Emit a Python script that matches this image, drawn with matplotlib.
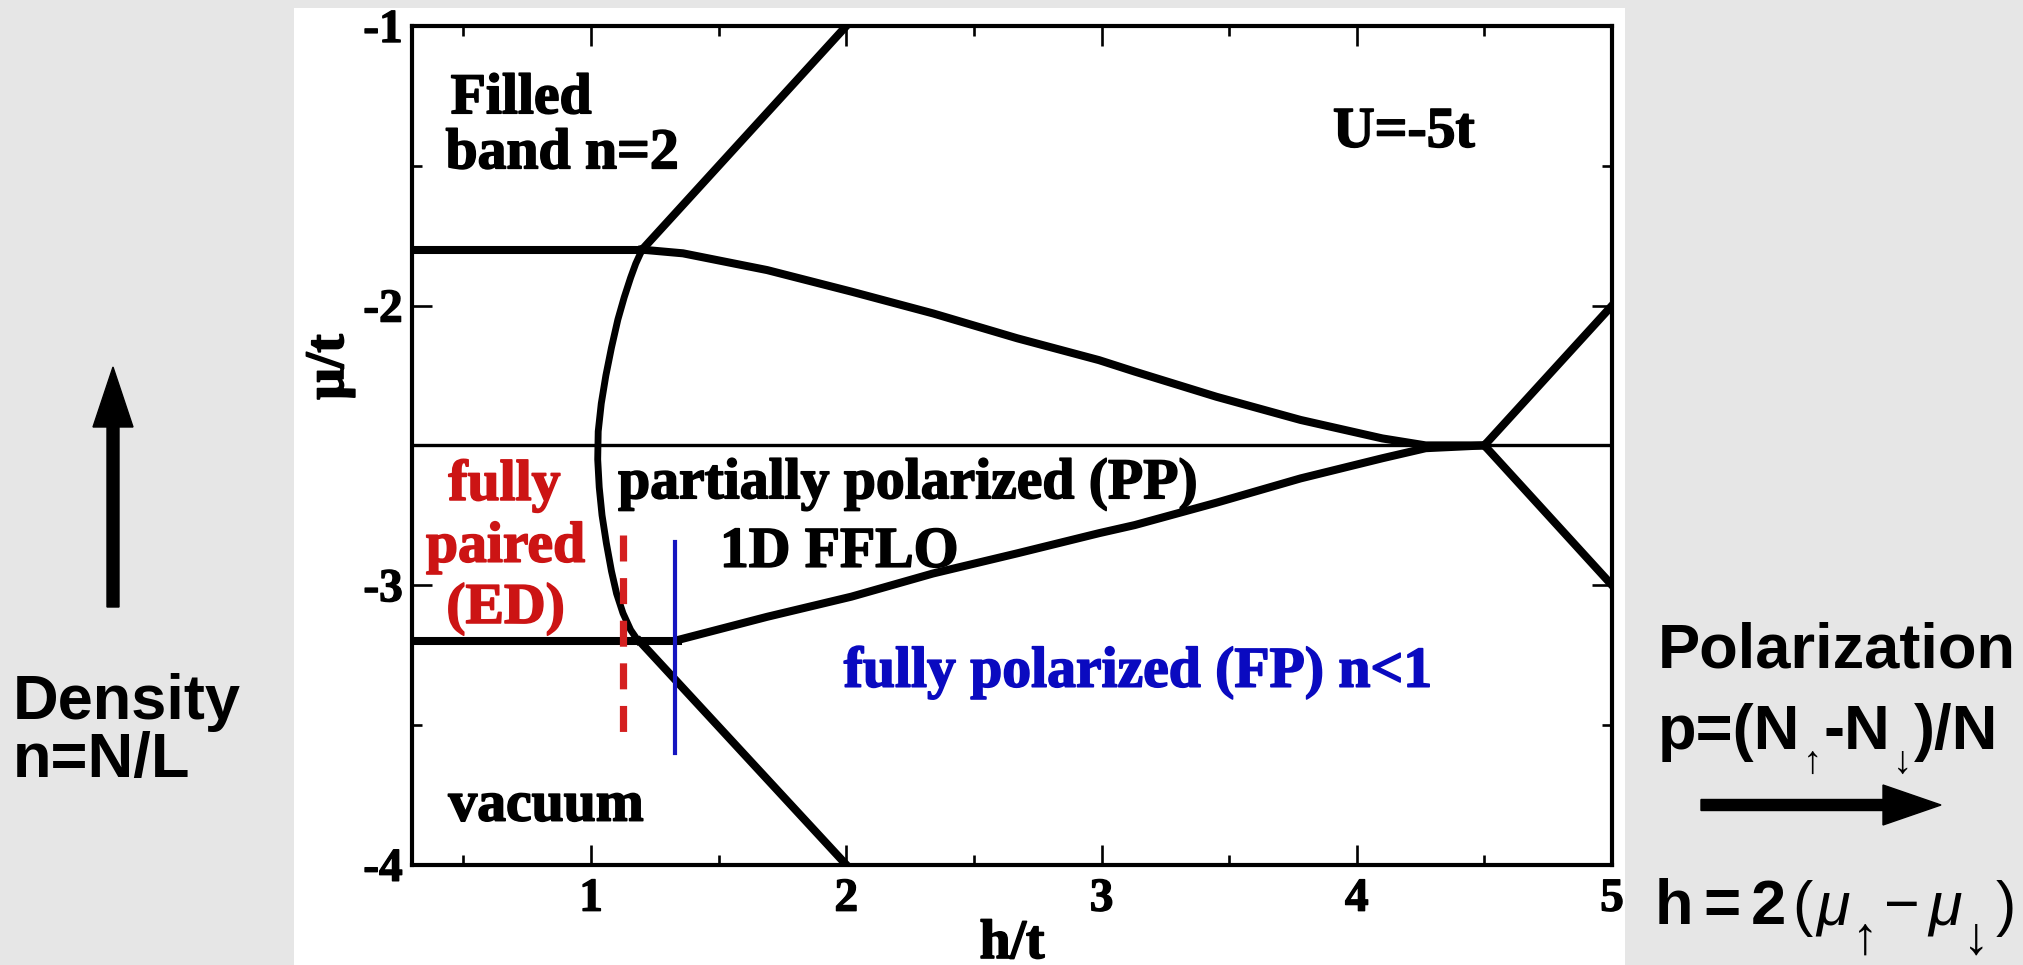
import matplotlib
matplotlib.use('Agg')
import matplotlib.pyplot as plt
import matplotlib.patheffects as pe
from matplotlib.patches import FancyArrow, Rectangle
from matplotlib.ticker import MultipleLocator

plt.rcParams['axes.unicode_minus'] = False

# ---------------- data (h/t, mu/t) ----------------
mid_h = [0.3, 5.0]
mid_mu = [-2.5, -2.5]

upper_flat_h = [0.3, 1.2]
upper_flat_mu = [-1.8, -1.8]
lower_flat_h = [0.3, 1.34]
lower_flat_mu = [-3.2, -3.2]

upper_curve_h = [1.2, 1.36, 1.69, 2.02, 2.34, 2.67, 2.99, 3.13, 3.45, 3.78, 4.10, 4.27, 4.5]
upper_curve_mu = [-1.80, -1.813, -1.873, -1.950, -2.028, -2.117, -2.195, -2.236, -2.326, -2.409, -2.475, -2.50, -2.50]

lower_curve_h = [1.34, 1.69, 2.02, 2.34, 2.67, 2.99, 3.13, 3.45, 3.78, 4.10, 4.27, 4.5]
lower_curve_mu = [-3.196, -3.113, -3.041, -2.958, -2.886, -2.814, -2.785, -2.705, -2.618, -2.546, -2.51, -2.50]

c_curve_mu = [-1.80, -1.85, -1.90, -1.97, -2.05, -2.15, -2.25, -2.35, -2.45, -2.55,
              -2.65, -2.75, -2.85, -2.95, -3.03, -3.10, -3.16, -3.20]
c_curve_h = [1.200, 1.175, 1.155, 1.130, 1.105, 1.080, 1.058, 1.040, 1.028, 1.026,
             1.032, 1.043, 1.060, 1.080, 1.100, 1.125, 1.155, 1.185]

upper_diag_h = [1.2, 2.0]
upper_diag_mu = [-1.8, -1.0]
lower_diag_h = [1.19, 2.0]
lower_diag_mu = [-3.2, -4.0]

right_up_h = [4.5, 5.0]
right_up_mu = [-2.5, -2.0]
right_down_h = [4.5, 5.0]
right_down_mu = [-2.5, -3.0]

ed_line_h = 1.125
ed_line_mu = [-2.82, -3.54]
fflo_line_h = 1.33
fflo_line_mu = [-2.845, -3.60]

x_ticks = [1, 2, 3, 4, 5]
y_ticks = [-1, -2, -3, -4]

# ---------------- figure ----------------
W, H = 2023, 965
fig = plt.figure(figsize=(W / 100, H / 100), dpi=100, facecolor='#e6e6e6')

bg = fig.add_axes([0, 0, 1, 1], zorder=0)
bg.set_xlim(0, W)
bg.set_ylim(H, 0)
bg.axis('off')
bg.add_patch(Rectangle((294, 8), 1625 - 294, H - 8, facecolor='white', edgecolor='none'))

ax = fig.add_axes([412.4 / W, 1 - 864.8 / H, (1612 - 412.4) / W, (864.8 - 26) / H], zorder=1)
ax.set_facecolor('white')
ax.set_xlim(0.3, 5.0)
ax.set_ylim(-4.0, -1.0)

thick = 5.8
k = 'black'
ax.plot(mid_h, mid_mu, color=k, lw=2.4, solid_capstyle='butt')
ax.plot(upper_flat_h, upper_flat_mu, color=k, lw=thick)
ax.plot(lower_flat_h, lower_flat_mu, color=k, lw=thick)
ax.plot(upper_curve_h, upper_curve_mu, color=k, lw=thick)
ax.plot(lower_curve_h, lower_curve_mu, color=k, lw=thick)
ax.plot(c_curve_h, c_curve_mu, color=k, lw=thick * 0.85)
ax.plot(upper_diag_h, upper_diag_mu, color=k, lw=thick)
ax.plot(lower_diag_h, lower_diag_mu, color=k, lw=thick)
ax.plot(right_up_h, right_up_mu, color=k, lw=thick)
ax.plot(right_down_h, right_down_mu, color=k, lw=thick)

ax.plot([ed_line_h, ed_line_h], ed_line_mu, color='#d42020', lw=5.2,
        dashes=(3.6, 2.3), solid_capstyle='butt', dash_capstyle='butt')
ax.plot([fflo_line_h, fflo_line_h], fflo_line_mu, color='#1515c0', lw=3.0)

for s in ax.spines.values():
    s.set_linewidth(3.0)

ax.xaxis.set_major_locator(MultipleLocator(1))
ax.xaxis.set_minor_locator(MultipleLocator(0.5))
ax.yaxis.set_major_locator(MultipleLocator(1))
ax.yaxis.set_minor_locator(MultipleLocator(0.5))
ax.set_xticks(x_ticks)
ax.set_yticks(y_ticks)
ax.set_xticklabels([str(v) for v in x_ticks])
ax.set_yticklabels([str(v) for v in y_ticks])
ax.tick_params(which='both', direction='in', top=True, right=True, width=1.9)
ax.tick_params(which='major', length=14.5)
ax.tick_params(which='minor', length=7.2)
ax.tick_params(axis='x', which='major', pad=10)
ax.tick_params(axis='y', which='major', pad=7)
bold_fx = [pe.withStroke(linewidth=1.0, foreground='black')]
for lab in ax.get_xticklabels() + ax.get_yticklabels():
    lab.set_fontfamily('Liberation Serif')
    lab.set_fontweight('bold')
    lab.set_fontsize(34)
    lab.set_path_effects(bold_fx)

serif = dict(family='Liberation Serif', weight='bold', fontsize=41.5)


def stext(x, y, s, color='black', **kw):
    return ax.text(x, y, s, va='baseline', color=color,
                   path_effects=[pe.withStroke(linewidth=1.2, foreground=color)],
                   **serif, **kw)


stext(0.45, -1.312, 'Filled', ha='left')
stext(0.43, -1.509, 'band n=2', ha='left')
stext(3.907, -1.432, 'U=-5t', ha='left')
red = '#cc1414'
stext(0.66, -2.695, 'fully', color=red, ha='center')
stext(0.665, -2.916, 'paired', color=red, ha='center')
stext(0.665, -3.135, '(ED)', color=red, ha='center')
stext(1.106, -2.689, 'partially polarized (PP)', ha='left')
stext(1.505, -2.934, '1D FFLO', ha='left')
stext(1.99, -3.363, 'fully polarized (FP) n<1', color='#0a0ac0', ha='left')
stext(0.441, -3.842, 'vacuum', ha='left')

# axis labels
lab_fx = [pe.withStroke(linewidth=1.2, foreground='black')]
bg.text(1012, 918, 'h/t', ha='center', va='top', family='Liberation Serif', weight='bold',
        fontsize=40, path_effects=lab_fx)
bg.text(329, 367, 'μ/t', ha='center', va='center', rotation=90,
        family='Liberation Serif', weight='bold', fontsize=40, path_effects=lab_fx)

# ---------------- outer annotations ----------------
bg.add_patch(FancyArrow(113, 607, 0, -240, width=12, head_width=40, head_length=60,
                        length_includes_head=True, color='black'))
bg.add_patch(FancyArrow(1701, 805, 240, 0, width=11, head_width=40, head_length=58,
                        length_includes_head=True, color='black'))

sans_b = dict(family=['Liberation Sans', 'DejaVu Sans'], weight='bold', fontsize=45.5)
bg.text(13, 719, 'Density', ha='left', va='baseline', **sans_b)
bg.text(13, 777, 'n=N/L', ha='left', va='baseline', **sans_b)
bg.text(1658, 667, 'Polarization', ha='left', va='baseline', **sans_b)

renderer = fig.canvas.get_renderer()


def draw_runs(x, y, runs):
    for s, kw, dy, gap in runs:
        t = bg.text(x, y + dy, s, ha='left', va='baseline', **kw)
        bb = t.get_window_extent(renderer=renderer)
        x += bb.width + gap


sub = dict(family=['Liberation Sans', 'DejaVu Sans'], weight='normal', fontsize=28)
draw_runs(1658, 749, [
    ('p=(N', sans_b, 0, 2),
    ('↑', sub, 24, 2),
    ('-N', sans_b, 0, 2),
    ('↓', sub, 24, 2),
    (')/N', sans_b, 0, 0),
])

reg = dict(family=['Liberation Sans', 'DejaVu Sans'], weight='normal', fontsize=44)
itl = dict(family=['Liberation Sans', 'DejaVu Sans'], weight='normal', style='italic', fontsize=44)
sub2 = dict(family=['Liberation Sans', 'DejaVu Sans'], weight='normal', fontsize=38)
draw_runs(1655, 924, [
    ('h', sans_b, 0, 10),
    ('=', dict(sans_b, fontsize=46), 0, 10),
    ('2', sans_b, 0, 6),
    ('(', reg, 0, 4),
    ('μ', itl, 0, 2),
    ('↑', sub2, 30, 6),
    ('−', reg, 0, 8),
    ('μ', itl, 0, 2),
    ('↓', sub2, 30, 6),
    (')', reg, 0, 0),
])

fig.savefig('out.png', dpi=100, facecolor=fig.get_facecolor())
